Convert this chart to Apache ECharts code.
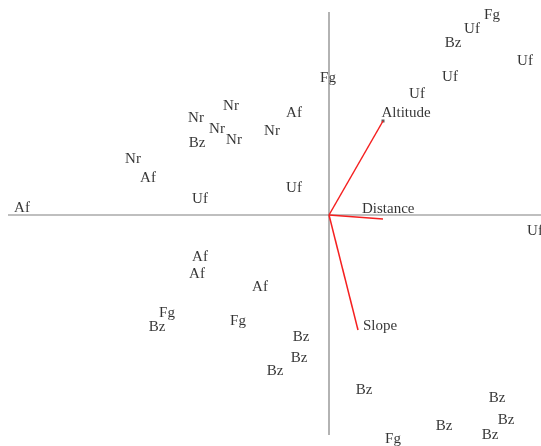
<!DOCTYPE html>
<html><head><meta charset="utf-8">
<script src="https://cdn.jsdelivr.net/npm/echarts@6/dist/echarts.min.js"></script>
<style>html,body{margin:0;padding:0;background:#fff}#c{width:541px;height:446px}</style>
</head><body><div id="c"></div>
<script>
// Site scores (biplot)
const siteLabels = ['Af','Nr','Af','Uf','Nr','Nr','Nr','Nr','Bz','Nr','Af','Uf','Fg',
  'Fg','Uf','Bz','Uf','Uf','Uf','Uf',
  'Af','Af','Af','Fg','Bz','Fg','Bz','Bz','Bz','Bz','Bz','Bz','Bz','Bz','Fg'];
const siteX = [-3.07,-1.96,-1.81,-1.29,-1.33,-0.98,-1.12,-0.95,-1.32,-0.57,-0.35,-0.35,-0.01,
  1.63,1.43,1.24,1.96,1.21,0.88,2.06,
  -1.29,-1.32,-0.69,-1.62,-1.72,-0.91,-0.28,-0.30,-0.54,0.35,1.68,1.77,1.15,1.61,0.64];
const siteY = [0.08,0.57,0.38,0.17,0.98,1.10,0.87,0.76,0.73,0.85,1.03,0.28,1.38,
  2.01,1.87,1.73,1.55,1.39,1.22,-0.15,
  -0.41,-0.58,-0.71,-0.97,-1.11,-1.05,-1.21,-1.42,-1.55,-1.74,-1.82,-2.04,-2.10,-2.19,-2.23];
// Environmental vectors
const vecNames = ['Altitude','Distance','Slope'];
const vecX = [0.54,0.54,0.29];
const vecY = [0.94,-0.04,-1.15];

const labelOffsets = {Altitude:[-3,-8], Distance:[-21,-10], Slope:[5,-4]};
const font = {fontFamily:'Liberation Serif', fontSize:15, color:'#000'};

const series = [];
// axes through origin
series.push({type:'line', data:[[-3.21,0],[2.12,0]], symbol:'none', silent:true,
  lineStyle:{color:'#808080', width:1.2}});
series.push({type:'line', data:[[0,2.03],[0,-2.20]], symbol:'none', silent:true,
  lineStyle:{color:'#808080', width:1.2}});
// vectors
vecNames.forEach((n,i)=>{
  series.push({type:'line', data:[[0,0],[vecX[i],vecY[i]]], symbol:'none', silent:true,
    lineStyle:{color:'#f52020', width:1.5}});
});
series.push({type:'scatter', symbol:'rect', symbolSize:[3,3],
  itemStyle:{color:'#333'},
  data: vecNames.map((n,i)=>({value:[vecX[i],vecY[i]], name:n,
    symbolSize: n==='Altitude'?3:0,
    label:{show:true, position:'right', distance:0, offset:labelOffsets[n], formatter:n, ...font}}))
});
// sites
series.push({type:'scatter', symbolSize:0,
  data: siteLabels.map((n,i)=>({value:[siteX[i],siteY[i]], name:n})),
  label:{show:true, position:'inside', offset:[0,1], formatter:p=>p.name, ...font}
});

const chart = echarts.init(document.getElementById('c'));
chart.setOption({
  animation:false,
  grid:{left:0,right:0,top:0,bottom:0},
  xAxis:{type:'value', min:-3.29, max:2.12, show:false},
  yAxis:{type:'value', min:-2.31, max:2.15, show:false},
  series
});
</script></body></html>
